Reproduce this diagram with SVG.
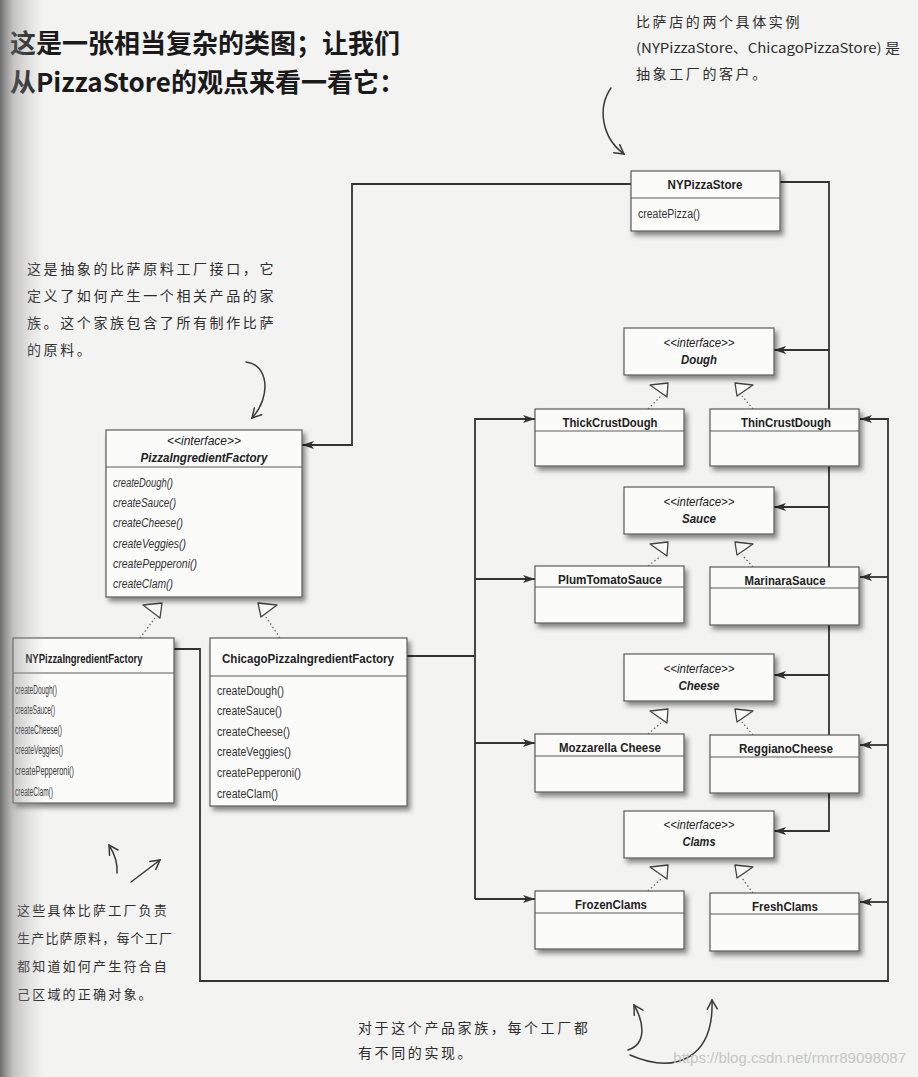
<svg xmlns="http://www.w3.org/2000/svg" width="918" height="1077" viewBox="0 0 918 1077">
<style>
.bg{fill:#f3f3f2}
.box{fill:#fbfbfa;stroke:#5a5a5a;stroke-width:1.2;filter:url(#sh)}
.dv{stroke:#5a5a5a;stroke-width:1.2}
.t{font-family:"Liberation Sans",Arial,sans-serif;font-size:13px;font-weight:bold;fill:#222;text-anchor:middle}
.it{font-style:italic}
.st{font-family:"Liberation Sans",Arial,sans-serif;font-size:12.5px;font-style:italic;fill:#222;text-anchor:middle}
.m{font-family:"Liberation Sans",Arial,sans-serif;font-size:12.5px;fill:#333}
.conn{fill:none;stroke:#333;stroke-width:1.8}
.dot{fill:none;stroke:#666;stroke-width:1.3;stroke-dasharray:1.5 2.5}
.tri{fill:#fbfbfa;stroke:#444;stroke-width:1.3;stroke-linejoin:round}
.hd{font-family:"Noto Sans CJK SC","Noto Sans",sans-serif;font-size:26px;font-weight:bold;fill:#1a1a1a}
.hw{font-family:"Noto Sans CJK SC",sans-serif;font-size:14px;fill:#2e2e2e;letter-spacing:2.6px}
.hand{fill:none;stroke:#3a3a3a;stroke-width:1.5;stroke-linecap:round;stroke-linejoin:round}
.wm{font-family:"Liberation Sans",Arial,sans-serif;font-size:15px;fill:#c6c6c6;text-anchor:end}
</style>
<defs>
<filter id="sh" x="-10%" y="-10%" width="130%" height="140%">
<feDropShadow dx="3" dy="4" stdDeviation="2.5" flood-color="#000" flood-opacity="0.45"/>
</filter>
<marker id="ah" viewBox="0 0 12 8" markerWidth="12" markerHeight="8" refX="12" refY="4" orient="auto" markerUnits="userSpaceOnUse">
<path d="M0,0 L12,4 L0,8 L3,4 Z" fill="#333"/>
</marker>
<marker id="oh" viewBox="0 0 12 12" markerWidth="12" markerHeight="12" refX="10" refY="6" orient="auto" markerUnits="userSpaceOnUse">
<path d="M1,1 L10,6 L1,11" fill="none" stroke="#3a3a3a" stroke-width="1.5" stroke-linecap="round"/>
</marker>
<linearGradient id="edge" x1="0" y1="0" x2="1" y2="0">
<stop offset="0" stop-color="#555" stop-opacity="0.85"/>
<stop offset="0.3" stop-color="#888" stop-opacity="0.45"/>
<stop offset="1" stop-color="#bbb" stop-opacity="0"/>
</linearGradient>
</defs>
<rect class="bg" x="0" y="0" width="918" height="1077"/>

<!-- headings / notes -->
<g id="heading">
<text class="hd" x="10" y="53">这是一张相当复杂的类图；让我们</text>
<text class="hd" x="10" y="92">从PizzaStore的观点来看一看它：</text>
</g>
<g id="note-clients">
<text class="hw" x="636" y="27">比萨店的两个具体实例</text>
<text class="hw" x="636" y="53" style="font-size:13.5px;letter-spacing:0" textLength="264" lengthAdjust="spacingAndGlyphs">(NYPizzaStore、ChicagoPizzaStore) 是</text>
<text class="hw" x="636" y="79">抽象工厂的客户。</text>
<path class="hand" d="M611,88 C597,108 602,138 624,154" marker-end="url(#oh)"/>
</g>
<g id="note-interface">
<text class="hw" x="27" y="274">这是抽象的比萨原料工厂接口，它</text>
<text class="hw" x="27" y="301">定义了如何产生一个相关产品的家</text>
<text class="hw" x="27" y="328">族。这个家族包含了所有制作比萨</text>
<text class="hw" x="27" y="355">的原料。</text>
<path class="hand" d="M246,362 C268,364 272,396 252,418" marker-end="url(#oh)"/>
</g>
<g id="note-concrete">
<text class="hw" x="17" y="915" style="font-size:13px;letter-spacing:2.2px">这些具体比萨工厂负责</text>
<text class="hw" x="17" y="943" style="font-size:13px;letter-spacing:1.2px">生产比萨原料，每个工厂</text>
<text class="hw" x="17" y="971" style="font-size:13px;letter-spacing:2.2px">都知道如何产生符合自</text>
<text class="hw" x="17" y="999" style="font-size:13px;letter-spacing:2.2px">己区域的正确对象。</text>
<path class="hand" d="M117,873 C118,862 114,853 109,845" marker-end="url(#oh)"/>
<path class="hand" d="M131,882 L160,860" marker-end="url(#oh)"/>
</g>
<g id="note-family">
<text class="hw" x="358" y="1033">对于这个产品家族，每个工厂都</text>
<text class="hw" x="358" y="1058">有不同的实现。</text>
<path class="hand" d="M628,1050 C647,1044 644,1022 634,1005" marker-end="url(#oh)"/>
<path class="hand" d="M630,1055 C676,1075 714,1058 712,1000" marker-end="url(#oh)"/>
</g>

<!-- connectors -->
<g id="connectors">
<path class="conn" d="M631,184 H352 V445 H302" marker-end="url(#ah)"/>
<path class="conn" d="M780,182 H829 V831 H774" marker-end="url(#ah)"/>
<path class="conn" d="M829,350 H774" marker-end="url(#ah)"/>
<path class="conn" d="M829,507 H774" marker-end="url(#ah)"/>
<path class="conn" d="M829,675 H774" marker-end="url(#ah)"/>
<path class="conn" d="M407,656 H475"/>
<path class="conn" d="M475,899 V419 H535" marker-end="url(#ah)"/>
<path class="conn" d="M475,579 H535" marker-end="url(#ah)"/>
<path class="conn" d="M475,743 H535" marker-end="url(#ah)"/>
<path class="conn" d="M475,899 H535" marker-end="url(#ah)"/>
<path class="conn" d="M174,649 H200 V981 H888 V419 H860" marker-end="url(#ah)"/>
<path class="conn" d="M888,577 H860" marker-end="url(#ah)"/>
<path class="conn" d="M888,745 H860" marker-end="url(#ah)"/>
<path class="conn" d="M888,902 H860" marker-end="url(#ah)"/>
<!-- realizations -->
<path class="dot" d="M140,638 L155,618"/>
<path class="dot" d="M280,638 L266,617"/>
<polygon class="tri" points="143,605 162,603 160,618"/>
<polygon class="tri" points="258,603 277,605 261,617"/>
<path class="dot" d="M648,409 L661,396"/>
<path class="dot" d="M753,409 L742,396"/>
<polygon class="tri" points="650,385 668,383 667,397"/>
<polygon class="tri" points="735,383 753,385 737,396"/>
<path class="dot" d="M648,566 L661,556"/>
<path class="dot" d="M753,567 L742,555"/>
<polygon class="tri" points="650,544 668,542 667,556"/>
<polygon class="tri" points="735,542 753,544 737,555"/>
<path class="dot" d="M648,734 L661,723"/>
<path class="dot" d="M753,735 L742,722"/>
<polygon class="tri" points="650,711 668,709 667,723"/>
<polygon class="tri" points="735,709 753,711 737,722"/>
<path class="dot" d="M648,891 L661,879"/>
<path class="dot" d="M753,893 L742,878"/>
<polygon class="tri" points="650,867 668,865 667,879"/>
<polygon class="tri" points="735,865 753,867 737,878"/>
</g>

<!-- nodes -->
<g id="NYPizzaStore">
<rect class="box" x="631" y="171" width="149" height="60"/>
<line class="dv" x1="631" y1="198" x2="780" y2="198"/>
<text class="t" x="705" y="189" textLength="75" lengthAdjust="spacingAndGlyphs">NYPizzaStore</text>
<text class="m" x="638" y="218" textLength="62" lengthAdjust="spacingAndGlyphs">createPizza()</text>
</g>
<g id="PizzaIngredientFactory">
<rect class="box" x="106" y="430" width="196" height="167"/>
<line class="dv" x1="106" y1="467" x2="302" y2="467"/>
<text class="st" x="204" y="445" textLength="74" lengthAdjust="spacingAndGlyphs">&lt;&lt;interface&gt;&gt;</text>
<text class="t it" x="204" y="462" textLength="127" lengthAdjust="spacingAndGlyphs">PizzaIngredientFactory</text>
<g class="m" font-style="italic">
<text x="113" y="487" textLength="60" lengthAdjust="spacingAndGlyphs">createDough()</text>
<text x="113" y="507" textLength="63" lengthAdjust="spacingAndGlyphs">createSauce()</text>
<text x="113" y="527" textLength="70" lengthAdjust="spacingAndGlyphs">createCheese()</text>
<text x="113" y="548" textLength="73" lengthAdjust="spacingAndGlyphs">createVeggies()</text>
<text x="113" y="568" textLength="84" lengthAdjust="spacingAndGlyphs">createPepperoni()</text>
<text x="113" y="588" textLength="60" lengthAdjust="spacingAndGlyphs">createClam()</text>
</g>
</g>
<g id="NYPizzaIngredientFactory">
<rect class="box" x="13" y="638" width="161" height="165"/>
<line class="dv" x1="13" y1="673" x2="174" y2="673"/>
<text class="t" x="84" y="663" textLength="117" lengthAdjust="spacingAndGlyphs">NYPizzaIngredientFactory</text>
<g class="m">
<text x="15" y="694" textLength="42" lengthAdjust="spacingAndGlyphs">createDough()</text>
<text x="15" y="714" textLength="40" lengthAdjust="spacingAndGlyphs">createSauce()</text>
<text x="15" y="734" textLength="47" lengthAdjust="spacingAndGlyphs">createCheese()</text>
<text x="15" y="754" textLength="48" lengthAdjust="spacingAndGlyphs">createVeggies()</text>
<text x="15" y="775" textLength="59" lengthAdjust="spacingAndGlyphs">createPepperoni()</text>
<text x="15" y="796" textLength="38" lengthAdjust="spacingAndGlyphs">createClam()</text>
</g>
</g>
<g id="ChicagoPizzaIngredientFactory">
<rect class="box" x="210" y="638" width="197" height="168"/>
<line class="dv" x1="210" y1="676" x2="407" y2="676"/>
<text class="t" x="308" y="663" textLength="172" lengthAdjust="spacingAndGlyphs">ChicagoPizzaIngredientFactory</text>
<g class="m">
<text x="217" y="695" textLength="67" lengthAdjust="spacingAndGlyphs">createDough()</text>
<text x="217" y="715" textLength="65" lengthAdjust="spacingAndGlyphs">createSauce()</text>
<text x="217" y="736" textLength="73" lengthAdjust="spacingAndGlyphs">createCheese()</text>
<text x="217" y="756" textLength="74" lengthAdjust="spacingAndGlyphs">createVeggies()</text>
<text x="217" y="777" textLength="84" lengthAdjust="spacingAndGlyphs">createPepperoni()</text>
<text x="217" y="798" textLength="61" lengthAdjust="spacingAndGlyphs">createClam()</text>
</g>
</g>
<g id="Dough">
<rect class="box" x="624" y="328" width="150" height="47"/>
<text class="st" x="699" y="347" textLength="71" lengthAdjust="spacingAndGlyphs">&lt;&lt;interface&gt;&gt;</text>
<text class="t it" x="699" y="364" textLength="36" lengthAdjust="spacingAndGlyphs">Dough</text>
</g>
<g id="ThickCrustDough">
<rect class="box" x="535" y="409" width="149" height="57"/>
<line class="dv" x1="535" y1="431" x2="684" y2="431"/>
<text class="t" x="610" y="427" textLength="95" lengthAdjust="spacingAndGlyphs">ThickCrustDough</text>
</g>
<g id="ThinCrustDough">
<rect class="box" x="710" y="409" width="149" height="57"/>
<line class="dv" x1="710" y1="431" x2="859" y2="431"/>
<text class="t" x="786" y="427" textLength="90" lengthAdjust="spacingAndGlyphs">ThinCrustDough</text>
</g>
<g id="Sauce">
<rect class="box" x="624" y="487" width="150" height="47"/>
<text class="st" x="699" y="506" textLength="71" lengthAdjust="spacingAndGlyphs">&lt;&lt;interface&gt;&gt;</text>
<text class="t it" x="699" y="523" textLength="34" lengthAdjust="spacingAndGlyphs">Sauce</text>
</g>
<g id="PlumTomatoSauce">
<rect class="box" x="535" y="566" width="149" height="57"/>
<line class="dv" x1="535" y1="587" x2="684" y2="587"/>
<text class="t" x="610" y="584" textLength="104" lengthAdjust="spacingAndGlyphs">PlumTomatoSauce</text>
</g>
<g id="MarinaraSauce">
<rect class="box" x="710" y="567" width="149" height="58"/>
<line class="dv" x1="710" y1="588" x2="859" y2="588"/>
<text class="t" x="785" y="585" textLength="81" lengthAdjust="spacingAndGlyphs">MarinaraSauce</text>
</g>
<g id="Cheese">
<rect class="box" x="624" y="654" width="150" height="47"/>
<text class="st" x="699" y="673" textLength="71" lengthAdjust="spacingAndGlyphs">&lt;&lt;interface&gt;&gt;</text>
<text class="t it" x="699" y="690" textLength="41" lengthAdjust="spacingAndGlyphs">Cheese</text>
</g>
<g id="MozzarellaCheese">
<rect class="box" x="535" y="734" width="149" height="58"/>
<line class="dv" x1="535" y1="756" x2="684" y2="756"/>
<text class="t" x="610" y="752" textLength="102" lengthAdjust="spacingAndGlyphs">Mozzarella Cheese</text>
</g>
<g id="ReggianoCheese">
<rect class="box" x="710" y="735" width="149" height="58"/>
<line class="dv" x1="710" y1="757" x2="859" y2="757"/>
<text class="t" x="786" y="753" textLength="94" lengthAdjust="spacingAndGlyphs">ReggianoCheese</text>
</g>
<g id="Clams">
<rect class="box" x="624" y="811" width="150" height="47"/>
<text class="st" x="699" y="829" textLength="71" lengthAdjust="spacingAndGlyphs">&lt;&lt;interface&gt;&gt;</text>
<text class="t it" x="699" y="846" textLength="33" lengthAdjust="spacingAndGlyphs">Clams</text>
</g>
<g id="FrozenClams">
<rect class="box" x="535" y="891" width="149" height="58"/>
<line class="dv" x1="535" y1="913" x2="684" y2="913"/>
<text class="t" x="611" y="909" textLength="72" lengthAdjust="spacingAndGlyphs">FrozenClams</text>
</g>
<g id="FreshClams">
<rect class="box" x="710" y="893" width="149" height="58"/>
<line class="dv" x1="710" y1="914" x2="859" y2="914"/>
<text class="t" x="785" y="911" textLength="66" lengthAdjust="spacingAndGlyphs">FreshClams</text>
</g>

<text class="wm" x="906" y="1063">https://blog.csdn.net/rmrr89098087</text>
<rect x="0" y="0" width="45" height="1077" fill="url(#edge)"/>
</svg>
